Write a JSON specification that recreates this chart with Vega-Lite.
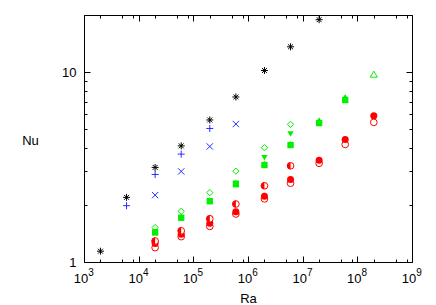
{
  "$schema": "https://vega.github.io/schema/vega-lite/v6.json",
  "width": 328,
  "height": 247,
  "autosize": "none",
  "padding": {"left": 84, "top": 15, "right": 24, "bottom": 43},
  "background": "white",
  "config": {
    "view": {"stroke": "black", "strokeWidth": 1},
    "font": "Liberation Sans",
    "axis": {"labelFont": "Liberation Sans", "titleFont": "Liberation Sans", "labelColor": "black", "titleColor": "black", "tickColor": "black", "tickWidth": 1, "grid": false, "domain": false, "titleFontWeight": "normal", "labelFontSize": 13, "titleFontSize": 13}
  },
  "data": {"values": [
    {"s": "A", "ra": 2000, "nu": 1.14}, {"s": "A", "ra": 6000, "nu": 2.19}, {"s": "A", "ra": 20000, "nu": 3.15}, {"s": "A", "ra": 60000, "nu": 4.09}, {"s": "A", "ra": 200000, "nu": 5.6}, {"s": "A", "ra": 600000, "nu": 7.4}, {"s": "A", "ra": 2000000, "nu": 10.2}, {"s": "A", "ra": 6000000, "nu": 13.6}, {"s": "A", "ra": 20000000, "nu": 18.9},
    {"s": "B", "ra": 6000, "nu": 1.98}, {"s": "B", "ra": 20000, "nu": 2.89}, {"s": "B", "ra": 60000, "nu": 3.7}, {"s": "B", "ra": 200000, "nu": 5.05},
    {"s": "C", "ra": 20000, "nu": 2.25}, {"s": "C", "ra": 60000, "nu": 3.0}, {"s": "C", "ra": 200000, "nu": 4.06}, {"s": "C", "ra": 600000, "nu": 5.33},
    {"s": "D", "ra": 20000, "nu": 1.52}, {"s": "D", "ra": 60000, "nu": 1.85}, {"s": "D", "ra": 200000, "nu": 2.32}, {"s": "D", "ra": 600000, "nu": 3.01}, {"s": "D", "ra": 2000000, "nu": 4.0}, {"s": "D", "ra": 6000000, "nu": 5.31},
    {"s": "E", "ra": 20000, "nu": 1.44}, {"s": "E", "ra": 60000, "nu": 1.71}, {"s": "E", "ra": 200000, "nu": 2.07}, {"s": "E", "ra": 600000, "nu": 2.6}, {"s": "E", "ra": 2000000, "nu": 3.54}, {"s": "E", "ra": 6000000, "nu": 4.72},
    {"s": "F", "ra": 20000, "nu": 1.43}, {"s": "F", "ra": 60000, "nu": 1.71}, {"s": "F", "ra": 200000, "nu": 2.09}, {"s": "F", "ra": 600000, "nu": 2.57}, {"s": "F", "ra": 2000000, "nu": 3.24}, {"s": "F", "ra": 6000000, "nu": 4.13}, {"s": "F", "ra": 20000000, "nu": 5.39}, {"s": "F", "ra": 60000000, "nu": 7.13},
    {"s": "G", "ra": 20000, "nu": 1.45}, {"s": "G", "ra": 60000, "nu": 1.74}, {"s": "G", "ra": 200000, "nu": 2.12}, {"s": "G", "ra": 600000, "nu": 2.62}, {"s": "G", "ra": 2000000, "nu": 3.3}, {"s": "G", "ra": 6000000, "nu": 4.2}, {"s": "G", "ra": 20000000, "nu": 5.6}, {"s": "G", "ra": 60000000, "nu": 7.42},
    {"s": "H", "ra": 200000000, "nu": 9.76},
    {"s": "I", "ra": 20000, "nu": 1.19}, {"s": "I", "ra": 60000, "nu": 1.36}, {"s": "I", "ra": 200000, "nu": 1.54}, {"s": "I", "ra": 600000, "nu": 1.79}, {"s": "I", "ra": 2000000, "nu": 2.15}, {"s": "I", "ra": 6000000, "nu": 2.6}, {"s": "I", "ra": 20000000, "nu": 3.31}, {"s": "I", "ra": 60000000, "nu": 4.16}, {"s": "I", "ra": 200000000, "nu": 5.44},
    {"s": "J", "ra": 20000, "nu": 1.25}, {"s": "J", "ra": 60000, "nu": 1.4}, {"s": "J", "ra": 200000, "nu": 1.6}, {"s": "J", "ra": 600000, "nu": 1.84}, {"s": "J", "ra": 2000000, "nu": 2.22}, {"s": "J", "ra": 6000000, "nu": 2.72}, {"s": "J", "ra": 20000000, "nu": 3.44}, {"s": "J", "ra": 60000000, "nu": 4.42}, {"s": "J", "ra": 200000000, "nu": 5.89},
    {"s": "K", "ra": 20000, "nu": 1.29}, {"s": "K", "ra": 60000, "nu": 1.46}, {"s": "K", "ra": 200000, "nu": 1.69}, {"s": "K", "ra": 600000, "nu": 2.02}, {"s": "K", "ra": 2000000, "nu": 2.52}, {"s": "K", "ra": 6000000, "nu": 3.21}
  ]},
  "resolve": {"scale": {"x": "independent", "y": "independent"}, "axis": {"x": "independent", "y": "independent"}},
  "layer": [
    {
      "encoding": {
        "x": {"field": "ra", "type": "quantitative", "scale": {"type": "log", "domain": [1000, 1000000000], "nice": false},
          "axis": {"orient": "bottom", "values": [1000, 2000, 5000, 8000, 10000, 20000, 50000, 80000, 100000, 200000, 500000, 800000, 1000000, 2000000, 5000000, 8000000, 10000000, 20000000, 50000000, 80000000, 100000000, 200000000, 500000000, 800000000, 1000000000],
            "labelExpr": "abs(log(datum.value)/LN10 - round(log(datum.value)/LN10)) < 0.001 ? '10' : ''",
            "tickSize": {"condition": {"test": "abs(log(datum.value)/LN10 - round(log(datum.value)/LN10)) < 0.001", "value": -6}, "value": -3},
            "labelOffset": -3.5, "labelPadding": 16, "labelBaseline": "top", "labelFlush": false, "labelOverlap": false,
            "title": "Ra", "titleX": 164, "titleY": 36, "titleBaseline": "middle", "titleAlign": "center"}},
        "y": {"field": "nu", "type": "quantitative", "scale": {"type": "log", "domain": [1, 20], "nice": false},
          "axis": {"orient": "left", "values": [1, 2, 3, 4, 5, 6, 7, 8, 9, 10, 20],
            "labelExpr": "datum.value == 1 || datum.value == 10 ? datum.label : ''",
            "tickSize": {"condition": {"test": "datum.value == 1 || datum.value == 10", "value": -6}, "value": -3},
            "labelPadding": 14, "labelFlush": false, "labelOverlap": false,
            "title": "Nu", "titleAngle": 0, "titleX": -54, "titleY": 125, "titleAlign": "center", "titleBaseline": "middle"}}
      },
      "layer": [
        {"transform": [{"filter": "datum.s == 'A'"}], "mark": {"type": "point", "shape": "M-1,0L1,0M0,-1L0,1M-0.7,-0.7L0.7,0.7M-0.7,0.7L0.7,-0.7", "filled": false, "color": "black", "strokeWidth": 1, "size": 49, "opacity": 1}},
        {"transform": [{"filter": "datum.s == 'B'"}], "mark": {"type": "point", "shape": "M-1,0L1,0M0,-1L0,1", "filled": false, "color": "#2a2aff", "strokeWidth": 1, "size": 49, "opacity": 1}},
        {"transform": [{"filter": "datum.s == 'C'"}], "mark": {"type": "point", "shape": "M-1,-1L1,1M-1,1L1,-1", "filled": false, "color": "#2a2aff", "strokeWidth": 1, "size": 40, "opacity": 1}},
        {"transform": [{"filter": "datum.s == 'G'"}], "mark": {"type": "point", "shape": "triangle-up", "filled": true, "color": "#00f000", "size": 40, "opacity": 1}},
        {"transform": [{"filter": "datum.s == 'E'"}], "mark": {"type": "point", "shape": "triangle-down", "filled": true, "color": "#00f000", "size": 40, "opacity": 1}},
        {"transform": [{"filter": "datum.s == 'F'"}], "mark": {"type": "point", "shape": "square", "filled": true, "color": "#00f000", "size": 40, "opacity": 1}},
        {"transform": [{"filter": "datum.s == 'D'"}], "mark": {"type": "point", "shape": "diamond", "filled": false, "color": "#00f000", "strokeWidth": 1, "size": 40, "opacity": 1}},
        {"transform": [{"filter": "datum.s == 'H'"}], "mark": {"type": "point", "shape": "triangle-up", "filled": false, "color": "#00f000", "strokeWidth": 1, "size": 49, "opacity": 1}},
        {"transform": [{"filter": "datum.s == 'I'"}], "mark": {"type": "point", "shape": "circle", "filled": false, "color": "red", "strokeWidth": 1, "size": 45, "opacity": 1}},
        {"transform": [{"filter": "datum.s == 'J'"}], "mark": {"type": "point", "shape": "circle", "filled": true, "color": "red", "size": 49, "opacity": 1}},
        {"transform": [{"filter": "datum.s == 'K'"}], "mark": {"type": "point", "shape": "circle", "filled": true, "color": "white", "size": 45, "opacity": 1}},
        {"transform": [{"filter": "datum.s == 'K'"}], "mark": {"type": "point", "shape": "circle", "filled": false, "color": "red", "strokeWidth": 1, "size": 45, "opacity": 1}},
        {"transform": [{"filter": "datum.s == 'K'"}], "mark": {"type": "point", "shape": "M0,-1A1,1 0 0,0 0,1Z", "filled": true, "color": "red", "size": 49, "opacity": 1}}
      ]
    },
    {
      "mark": {"type": "point", "opacity": 0},
      "encoding": {
        "x": {"field": "ra", "type": "quantitative", "scale": {"type": "log", "domain": [1000, 1000000000], "nice": false},
          "axis": {"orient": "top", "values": [1000, 2000, 5000, 8000, 10000, 20000, 50000, 80000, 100000, 200000, 500000, 800000, 1000000, 2000000, 5000000, 8000000, 10000000, 20000000, 50000000, 80000000, 100000000, 200000000, 500000000, 800000000, 1000000000],
            "labels": false, "title": null,
            "tickSize": {"condition": {"test": "abs(log(datum.value)/LN10 - round(log(datum.value)/LN10)) < 0.001", "value": -6}, "value": -3}}},
        "y": {"field": "nu", "type": "quantitative", "scale": {"type": "log", "domain": [1, 20], "nice": false},
          "axis": {"orient": "right", "values": [1, 2, 3, 4, 5, 6, 7, 8, 9, 10, 20], "labels": false, "title": null,
            "tickSize": {"condition": {"test": "datum.value == 1 || datum.value == 10", "value": -6}, "value": -3}}}
      }
    },
    {
      "mark": {"type": "point", "opacity": 0},
      "encoding": {
        "x": {"field": "ra", "type": "quantitative", "scale": {"type": "log", "domain": [1000, 1000000000], "nice": false},
          "axis": {"orient": "bottom", "values": [1000, 10000, 100000, 1000000, 10000000, 100000000, 1000000000],
            "labelExpr": "format(round(log(datum.value)/LN10), 'd')", "ticks": false, "labelFontSize": 10,
            "labelOffset": 6.5, "labelPadding": 5, "labelBaseline": "top", "labelFlush": false, "labelOverlap": false, "title": null}},
        "y": {"field": "nu", "type": "quantitative", "scale": {"type": "log", "domain": [1, 20], "nice": false}, "axis": null}
      }
    }
  ]
}
